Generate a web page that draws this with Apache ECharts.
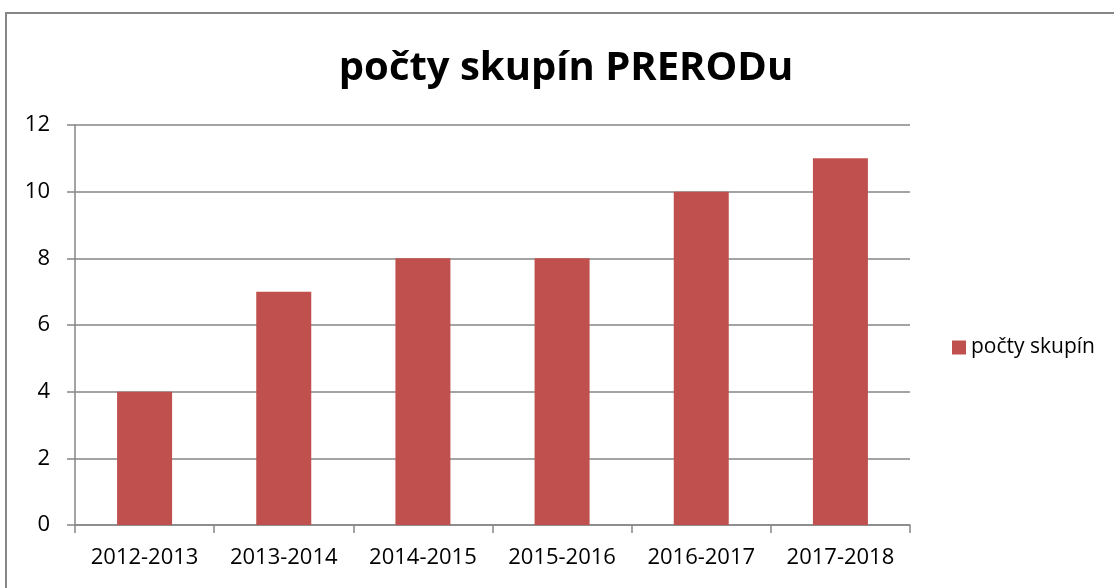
<!DOCTYPE html>
<html>
<head>
<meta charset="utf-8">
<title>počty skupín PRERODu</title>
<script src="https://cdn.jsdelivr.net/npm/echarts@6/dist/echarts.min.js"></script>
<style>
  html, body { margin: 0; padding: 0; background: #fff; }
  #main { width: 1114px; height: 588px; }
</style>
</head>
<body>
<div id="main"></div>
<script>
// data
var years = ['2012-2013', '2013-2014', '2014-2015', '2015-2016', '2016-2017', '2017-2018'];
var groups = [4, 7, 8, 8, 10, 11];
var seriesName = 'počty skupín';

var font = 'Open Sans, Liberation Sans, sans-serif';
var gray = '#868686';

var chart = echarts.init(document.getElementById('main'));

chart.setOption({
    animation: false,
    textStyle: { fontFamily: font },
    title: {
        text: 'počty skupín PRERODu',
        left: 561,
        textAlign: 'center',
        top: 44,
        textStyle: { fontSize: 40, fontWeight: 'bold', color: '#000', fontFamily: font }
    },
    graphic: [{
        type: 'rect',
        shape: { x: 6, y: 13, width: 1300, height: 800 },
        style: { fill: 'none', stroke: gray, lineWidth: 2 },
        silent: true
    }],
    legend: {
        data: [seriesName],
        left: 947,
        top: 332,
        itemWidth: 14,
        itemHeight: 14,
        itemGap: 6,
        icon: 'rect',
        textStyle: { fontSize: 21, color: '#000', fontFamily: font }
    },
    grid: { left: 75, right: 204, top: 125, bottom: 63 },
    xAxis: {
        type: 'category',
        data: years,
        axisLine: { lineStyle: { color: gray, width: 1.5 } },
        axisTick: { show: true, interval: 0, length: 8, lineStyle: { color: gray, width: 1.5 } },
        axisLabel: { interval: 0, fontSize: 22, color: '#000', margin: 22 }
    },
    yAxis: {
        type: 'value',
        min: 0,
        max: 12,
        interval: 2,
        axisLine: { show: true, lineStyle: { color: gray, width: 1.5 } },
        axisTick: { show: true, length: 8, lineStyle: { color: gray, width: 1.5 } },
        axisLabel: { fontSize: 22, color: '#000', margin: 25 },
        splitLine: { lineStyle: { color: gray, width: 1.5 } }
    },
    series: [{
        name: seriesName,
        type: 'bar',
        data: groups,
        barWidth: 55,
        itemStyle: { color: '#C0504D' }
    }]
});
</script>
</body>
</html>
